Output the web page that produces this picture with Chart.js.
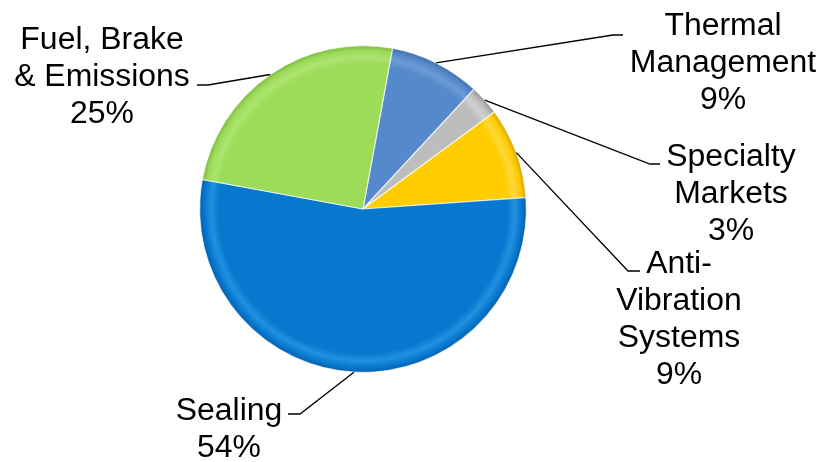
<!DOCTYPE html>
<html>
<head>
<meta charset="utf-8">
<script src="https://cdn.jsdelivr.net/npm/chart.js@4.4.1/dist/chart.umd.min.js"></script>
<style>
    html, body { margin: 0; padding: 0; background: #fff; }
    #wrap { width: 832px; height: 462px; position: relative; }
</style>
</head>
<body>
<div id="wrap"><canvas id="chart"></canvas></div>
<script>
"use strict";

// Segments, clockwise starting just right of twelve o'clock
const segments = ["Thermal Management", "Specialty Markets", "Anti-Vibration Systems", "Sealing", "Fuel, Brake & Emissions"];
const shares = [9, 3, 9, 54, 25];
const labelLines = [
    ["Thermal", "Management"],
    ["Specialty", "Markets"],
    ["Anti-", "Vibration", "Systems"],
    ["Sealing"],
    ["Fuel, Brake", "& Emissions"],
];
const sliceColors = ["#5489cb", "#bdbdbd", "#ffcc00", "#0778d0", "#9cdc58"];
const rimLight = ["#6d9bd6", "#cfcfcf", "#ffd83a", "#2390e0", "#acE470"];
const rimDark = ["#3f6ea8", "#8f8f8f", "#cfa000", "#055da6", "#7cb63e"];

// Where each outside label sits: text centre x, first line centre y, elbow and end of the leader
const labelLayout = [
    { x: 723, y: 24, elbow: [613, 35], end: [623, 35] },
    { x: 731, y: 155, elbow: [650, 164], end: [660, 164] },
    { x: 679, y: 262, elbow: [628, 271], end: [640, 271] },
    { x: 229, y: 409, elbow: [300, 414], end: [288, 414] },
    { x: 102, y: 38, elbow: [208, 85], end: [197, 85] },
];

const FONT = "31px 'Liberation Sans', Arial, sans-serif";
const TEXT_STRETCH = 1.03;
const LINE_GAP = 37;

// Radial shading so each slice gets a bevelled rim
function bevel(ctx) {
    const chart = ctx.chart;
    const area = chart.chartArea;
    const i = ctx.dataIndex;
    if (!area) return sliceColors[i];
    const cx = (area.left + area.right) / 2;
    const cy = (area.top + area.bottom) / 2;
    const r = Math.min(area.right - area.left, area.bottom - area.top) / 2;
    const g = chart.ctx.createRadialGradient(cx, cy, 0, cx, cy, r);
    g.addColorStop(0, sliceColors[i]);
    g.addColorStop(0.88, sliceColors[i]);
    g.addColorStop(0.925, rimLight[i]);
    g.addColorStop(0.965, sliceColors[i]);
    g.addColorStop(1, rimDark[i]);
    return g;
}

const leaderLabels = {
    id: "leaderLabels",
    afterDatasetsDraw(chart) {
        const ctx = chart.ctx;
        const arcs = chart.getDatasetMeta(0).data;
        ctx.save();
        arcs.forEach((arc, i) => {
            const p = arc.getProps(["x", "y", "startAngle", "endAngle", "outerRadius"], true);
            const mid = (p.startAngle + p.endAngle) / 2;
            const ax = p.x + Math.cos(mid) * p.outerRadius;
            const ay = p.y + Math.sin(mid) * p.outerRadius;
            const lay = labelLayout[i];

            ctx.strokeStyle = "#000";
            ctx.lineWidth = 1.3;
            ctx.beginPath();
            ctx.moveTo(ax, ay);
            ctx.lineTo(lay.elbow[0], lay.elbow[1]);
            ctx.lineTo(lay.end[0], lay.end[1]);
            ctx.stroke();

            const lines = labelLines[i].concat([shares[i] + "%"]);
            ctx.fillStyle = "#000";
            ctx.font = FONT;
            ctx.textAlign = "center";
            ctx.textBaseline = "alphabetic";
            lines.forEach((t, k) => {
                ctx.save();
                ctx.translate(lay.x, lay.y + 11 + k * LINE_GAP);
                ctx.scale(TEXT_STRETCH, 1);
                ctx.fillText(t, 0, 0);
                ctx.restore();
            });
        });
        ctx.restore();
    },
};

new Chart(document.getElementById("chart"), {
    type: "pie",
    data: {
        labels: segments,
        datasets: [
            {
                data: shares,
                backgroundColor: bevel,
                borderColor: "rgba(255, 255, 255, 0.7)",
                borderWidth: 1.2,
            },
        ],
    },
    options: {
        responsive: true,
        maintainAspectRatio: false,
        animation: false,
        rotation: 10.4,
        layout: {
            padding: { top: 45, bottom: 89, left: 199, right: 305 },
        },
        plugins: {
            legend: { display: false },
            tooltip: { enabled: false },
        },
    },
    plugins: [leaderLabels],
});
</script>
</body>
</html>
